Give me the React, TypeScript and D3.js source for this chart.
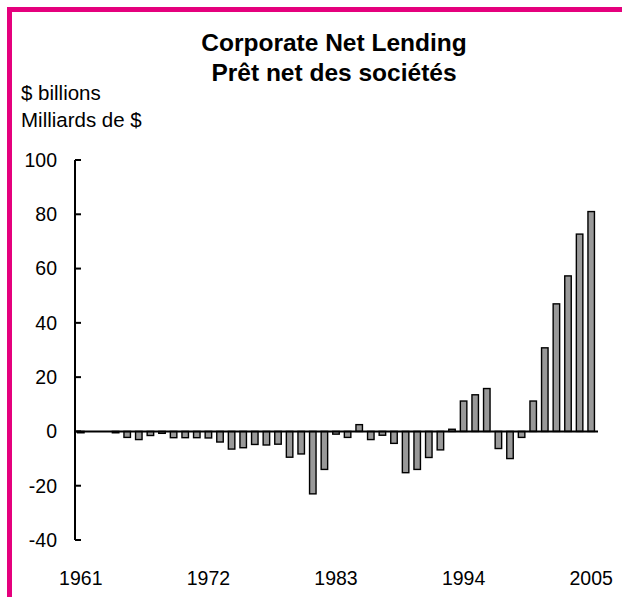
import React from "react";
import * as d3 from "d3";

const years: number[] = [
  1961, 1962, 1963, 1964, 1965, 1966, 1967, 1968, 1969, 1970,
  1971, 1972, 1973, 1974, 1975, 1976, 1977, 1978, 1979, 1980,
  1981, 1982, 1983, 1984, 1985, 1986, 1987, 1988, 1989, 1990,
  1991, 1992, 1993, 1994, 1995, 1996, 1997, 1998, 1999, 2000,
  2001, 2002, 2003, 2004, 2005,
];

const netLending: number[] = [
  -0.5, 0, 0, -0.5, -2.2, -3, -1.5, -0.7, -2.3, -2.3,
  -2.3, -2.4, -3.9, -6.5, -6, -4.8, -5, -4.7, -9.5, -8.3,
  -23, -14, -1, -2.2, 2.5, -3, -1.4, -4.4, -15.2, -14,
  -9.6, -6.8, 0.8, 11.2, 13.5, 15.8, -6.3, -10, -2.2, 11.2,
  30.8, 47, 57.3, 72.7, 81,
];

const yTicks: number[] = [-40, -20, 0, 20, 40, 60, 80, 100];
const xLabels: number[] = [1961, 1972, 1983, 1994, 2005];

const titleLines: string[] = ["Corporate Net Lending", "Prêt net des sociétés"];
const unitLines: string[] = ["$ billions", "Milliards de $"];

export default function App() {
  const W = 622;
  const H = 597;
  const left = 75;
  const right = 597;
  const top = 160;
  const bottom = 540;

  const x = d3
    .scaleBand<number>()
    .domain(years)
    .range([left, right])
    .paddingInner(0.44)
    .paddingOuter(0.22);
  const y = d3.scaleLinear().domain([-40, 100]).range([bottom, top]);
  const font = "'Liberation Sans', Arial, sans-serif";

  return (
    <svg
      width={W}
      height={H}
      style={{ position: "absolute", left: 0, top: 0, background: "#fff" }}
      fontFamily={font}
    >
      <rect x={0} y={0} width={W} height={H} fill="#fff" />
      {/* pink frame */}
      <rect x={7} y={7} width={W - 7} height={5} fill="#E5007D" />
      <rect x={7} y={7} width={5} height={H - 7} fill="#E5007D" />

      {titleLines.map((t, i) => (
        <text
          key={t}
          x={334}
          y={51 + i * 30}
          textAnchor="middle"
          fontWeight="bold"
          fontSize={24.5}
          fill="#000"
        >
          {t}
        </text>
      ))}
      {unitLines.map((t, i) => (
        <text key={t} x={21} y={100 + i * 27} fontSize={20.5} fill="#000">
          {t}
        </text>
      ))}

      {/* bars */}
      {netLending.map((v, i) => {
        const yr = years[i];
        const y0 = y(0);
        const yv = y(v);
        const h = Math.abs(yv - y0);
        if (h < 0.01) return null;
        return (
          <rect
            key={yr}
            x={x(yr)!}
            y={Math.min(yv, y0)}
            width={x.bandwidth()}
            height={h}
            fill="#999999"
            stroke="#000"
            strokeWidth={1.4}
          />
        );
      })}

      {/* y axis */}
      <line x1={left} x2={left} y1={top} y2={bottom} stroke="#000" strokeWidth={2} />
      {yTicks.map((t) => (
        <g key={t}>
          <line x1={left} x2={left + 6} y1={y(t)} y2={y(t)} stroke="#000" strokeWidth={2} />
          <text
            x={57}
            y={y(t)}
            dy="0.35em"
            textAnchor="end"
            fontSize={19.5}
            fill="#000"
          >
            {t}
          </text>
        </g>
      ))}

      {/* zero line */}
      <line x1={left} x2={right + 1} y1={y(0)} y2={y(0)} stroke="#000" strokeWidth={2} />

      {xLabels.map((yr) => (
        <text
          key={yr}
          x={x(yr)! + x.bandwidth() / 2}
          y={578}
          dy="0.35em"
          textAnchor="middle"
          fontSize={19.5}
          fill="#000"
        >
          {yr}
        </text>
      ))}
    </svg>
  );
}
